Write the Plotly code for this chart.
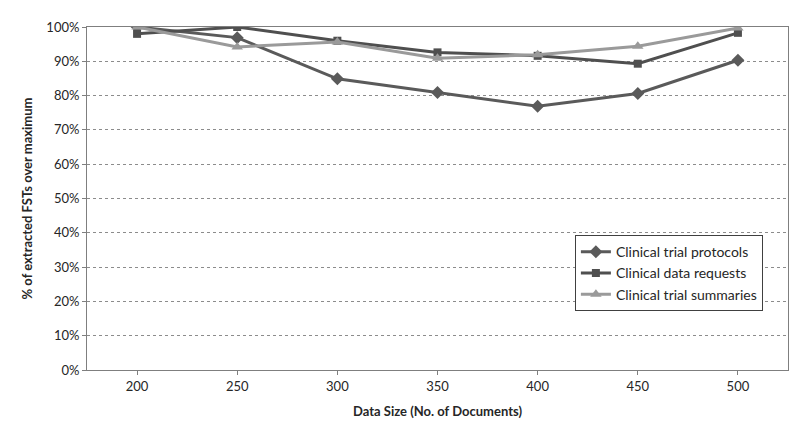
import plotly.graph_objects as go

sizes = ["200", "250", "300", "350", "400", "450", "500"]
protocols = [100.0, 96.9, 84.9, 80.9, 76.9, 80.6, 90.3]
requests = [98.0, 100.0, 96.0, 92.6, 91.6, 89.3, 98.3]
summaries = [100.0, 94.2, 95.6, 90.9, 91.9, 94.4, 99.7]

font_family = "Lato, 'Open Sans', sans-serif"

fig = go.Figure()
fig.add_trace(go.Scatter(x=sizes, y=protocols, name="Clinical trial protocols",
                         mode="lines+markers",
                         line=dict(color="#5a5a5a", width=3),
                         marker=dict(symbol="diamond", size=10, color="#5a5a5a")))
fig.add_trace(go.Scatter(x=sizes, y=requests, name="Clinical data requests",
                         mode="lines+markers",
                         line=dict(color="#4f4f4f", width=3),
                         marker=dict(symbol="square", size=8, color="#4f4f4f")))
fig.add_trace(go.Scatter(x=sizes, y=summaries, name="Clinical trial summaries",
                         mode="lines+markers",
                         line=dict(color="#9a9a9a", width=3),
                         marker=dict(symbol="triangle-up", size=10, color="#9a9a9a")))

fig.update_layout(
    width=792, height=426,
    margin=dict(l=79, r=12, t=11, b=64),
    paper_bgcolor="white", plot_bgcolor="white",
    font=dict(family=font_family, size=13, color="#262626"),
    showlegend=True,
    legend=dict(x=0.696, y=0.393, xanchor="left", yanchor="top",
                bordercolor="#404040", borderwidth=1, bgcolor="white",
                font=dict(size=14, color="#262626"),
                tracegroupgap=2, itemwidth=30),
    xaxis=dict(type="category", range=[-0.5, 6.5],
               showline=True, linecolor="#7f7f7f", linewidth=1, mirror=True,
               ticks="outside", ticklen=4, tickcolor="#7f7f7f",
               showgrid=False, zeroline=False,
               title=dict(text="<b>Data Size (No. of Documents)</b>",
                          font=dict(size=13), standoff=14)),
    yaxis=dict(range=[0, 100], dtick=10, ticksuffix="%",
               showline=True, linecolor="#7f7f7f", linewidth=1, mirror=True,
               ticks="outside", ticklen=4, tickcolor="#7f7f7f",
               showgrid=True, gridcolor="#8c8c8c", griddash="dot", gridwidth=1,
               zeroline=False,
               title=dict(text="<b>% of extracted FSTs over maximum</b>",
                          font=dict(size=13), standoff=10)),
)

fig.write_html("out.html")
